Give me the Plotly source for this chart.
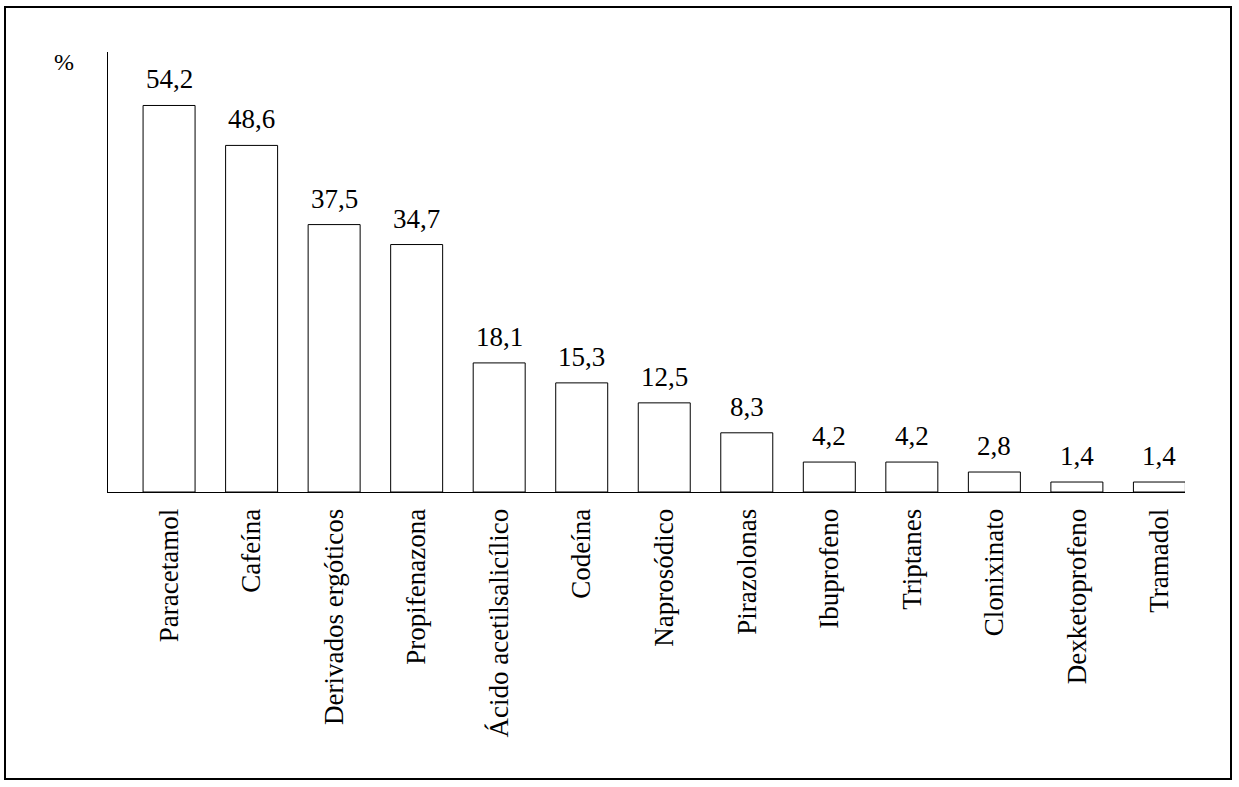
import plotly.graph_objects as go

categories = ["Paracetamol", "Cafeína", "Derivados ergóticos", "Propifenazona",
              "Ácido acetilsalicílico", "Codeína", "Naprosódico", "Pirazolonas",
              "Ibuprofeno", "Triptanes", "Clonixinato", "Dexketoprofeno", "Tramadol"]
values = [54.2, 48.6, 37.5, 34.7, 18.1, 15.3, 12.5, 8.3, 4.2, 4.2, 2.8, 1.4, 1.4]
value_labels = [f"{v:.1f}".replace(".", ",") for v in values]

FONT = "Liberation Serif"
W, H = 1239, 787
L, R, T, B = 108, 1185, 52, 492

fig = go.Figure(go.Bar(
    x=categories, y=values,
    marker=dict(color="white", line=dict(color="black", width=1)),
    width=0.63,
    cliponaxis=False,
    hoverinfo="skip",
))

def px_x(p):
    return (p - L) / (R - L)

def px_y(p):
    return (B - p) / (B - T)

annotations = [dict(text="%", xref="paper", yref="paper", x=px_x(64), y=px_y(62),
                    xanchor="center", yanchor="middle",
                    showarrow=False, font=dict(family=FONT, size=24, color="black"))]
for c, v, t in zip(categories, values, value_labels):
    annotations.append(dict(x=c, y=v, xref="x", yref="y", text=t, showarrow=False,
                            yanchor="bottom", yshift=9,
                            font=dict(family=FONT, size=27, color="black")))

fig.update_layout(
    width=W, height=H,
    margin=dict(l=L, r=W - R, t=T, b=H - B, pad=0),
    plot_bgcolor="white", paper_bgcolor="white",
    showlegend=False,
    xaxis=dict(range=[-0.74, 12.31], showline=True, linecolor="black", linewidth=1,
               showgrid=False, zeroline=False, ticks="", tickangle=-90,
               ticklabelstandoff=5,
               tickfont=dict(family=FONT, size=27, color="black")),
    yaxis=dict(range=[0, 61.7], showline=True, linecolor="black", linewidth=1,
               showgrid=False, zeroline=False, ticks="", showticklabels=False),
    shapes=[dict(type="rect", xref="paper", yref="paper",
                 x0=px_x(5), x1=px_x(1231), y0=px_y(779), y1=px_y(7),
                 line=dict(color="black", width=2))],
    annotations=annotations,
)

fig.write_html("out.html", config={"displayModeBar": False},
               post_script="document.body.style.margin='0';")
